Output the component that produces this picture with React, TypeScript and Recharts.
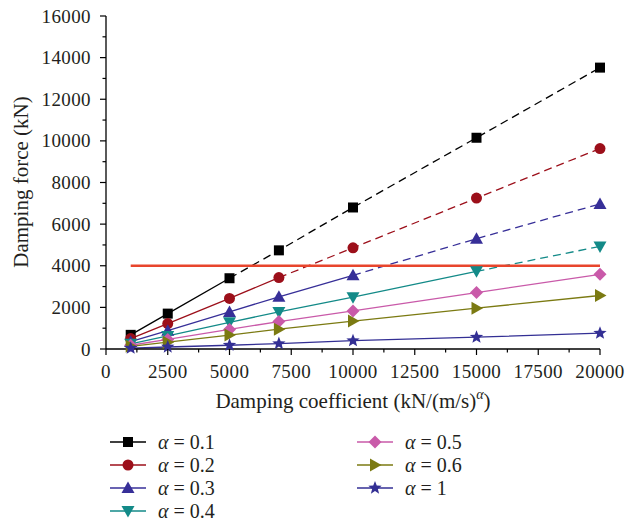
import React from "react";
import { LineChart, Line, XAxis, YAxis, Label } from "recharts";

const coefficients = [1000, 2500, 5000, 7000, 10000, 15000, 20000];

const force01 = [680, 1700, 3400, 4740, 6800, 10150, 13520];
const force02 = [500, 1220, 2430, 3430, 4860, 7250, 9630];
const force03 = [350, 880, 1780, 2510, 3540, 5300, 6970];
const force04 = [250, 630, 1280, 1780, 2490, 3730, 4930];
const force05 = [180, 460, 940, 1320, 1830, 2710, 3590];
const force06 = [130, 330, 670, 950, 1340, 1960, 2570];
const force1 = [40, 95, 180, 260, 400, 570, 760];

const limitForce = 4000;

const xTicks = [0, 1250, 2500, 3750, 5000, 6250, 7500, 8750, 10000, 11250, 12500, 13750, 15000, 16250, 17500, 18750, 20000];
const yTicks = [0, 1000, 2000, 3000, 4000, 5000, 6000, 7000, 8000, 9000, 10000, 11000, 12000, 13000, 14000, 15000, 16000];

const FONT = "'Liberation Serif', 'Times New Roman', serif";
const INK = "#231f20";

type Shape = "square" | "circle" | "up" | "down" | "diamond" | "right" | "star";

// solidUntil: last index drawn with a solid line, the rest is dashed
const series: { alpha: string; values: number[]; color: string; shape: Shape; solidUntil: number }[] = [
  { alpha: "0.1", values: force01, color: "#000000", shape: "square", solidUntil: 2 },
  { alpha: "0.2", values: force02, color: "#9c0f1a", shape: "circle", solidUntil: 3 },
  { alpha: "0.3", values: force03, color: "#372f98", shape: "up", solidUntil: 4 },
  { alpha: "0.4", values: force04, color: "#138a88", shape: "down", solidUntil: 5 },
  { alpha: "0.5", values: force05, color: "#c95aa9", shape: "diamond", solidUntil: 6 },
  { alpha: "0.6", values: force06, color: "#7b7a12", shape: "right", solidUntil: 6 },
  { alpha: "1", values: force1, color: "#332f94", shape: "star", solidUntil: 6 },
];

const last = coefficients.length - 1;

const rows = coefficients.map((c, i) => {
  const row: Record<string, number | null> = { c, limit: limitForce };
  series.forEach((s, k) => {
    row[`s${k}`] = i <= s.solidUntil ? s.values[i] : null;
    row[`d${k}`] = i >= s.solidUntil ? s.values[i] : null;
  });
  return row;
});

function Marker({ shape, cx, cy, color }: { shape: Shape; cx: number; cy: number; color: string }) {
  switch (shape) {
    case "square":
      return <rect x={cx - 5} y={cy - 5} width={10} height={10} fill={color} />;
    case "circle":
      return <circle cx={cx} cy={cy} r={5.5} fill={color} />;
    case "up":
      return <polygon points={`${cx},${cy - 6.5} ${cx - 6.5},${cy + 5} ${cx + 6.5},${cy + 5}`} fill={color} />;
    case "down":
      return <polygon points={`${cx},${cy + 6.5} ${cx - 6.5},${cy - 5} ${cx + 6.5},${cy - 5}`} fill={color} />;
    case "diamond":
      return <polygon points={`${cx},${cy - 6.5} ${cx + 6.5},${cy} ${cx},${cy + 6.5} ${cx - 6.5},${cy}`} fill={color} />;
    case "right":
      return <polygon points={`${cx + 6.5},${cy} ${cx - 5},${cy - 6.5} ${cx - 5},${cy + 6.5}`} fill={color} />;
    case "star": {
      const pts: string[] = [];
      for (let j = 0; j < 10; j++) {
        const r = j % 2 === 0 ? 7 : 3;
        const a = -Math.PI / 2 + (j * Math.PI) / 5;
        pts.push(`${cx + r * Math.cos(a)},${cy + r * Math.sin(a)}`);
      }
      return <polygon points={pts.join(" ")} fill={color} />;
    }
  }
  return null;
}

const makeDot = (shape: Shape, color: string, from: number) => (props: any) => {
  const { cx, cy, index } = props;
  if (cx == null || cy == null || index < from) return <g key={`e-${index}`} />;
  return (
    <g key={`m-${index}`}>
      <Marker shape={shape} cx={cx} cy={cy} color={color} />
    </g>
  );
};

const XTick = (props: any) => {
  const { x, y, payload } = props;
  const major = payload.value % 2500 === 0;
  return (
    <g>
      <line x1={x} y1={y} x2={x} y2={y + (major ? 6 : 3.5)} stroke="#000" strokeWidth={1.2} />
      {major && (
        <text x={x} y={y + 29} textAnchor="middle" fontFamily={FONT} fontSize={19} letterSpacing={0.4} fill={INK}>
          {payload.value}
        </text>
      )}
    </g>
  );
};

const YTick = (props: any) => {
  const { x, y, payload } = props;
  const major = payload.value % 2000 === 0;
  return (
    <g>
      <line x1={x} y1={y} x2={x - (major ? 6 : 3.5)} y2={y} stroke="#000" strokeWidth={1.2} />
      {major && (
        <text x={x - 15} y={y + 6.5} textAnchor="end" fontFamily={FONT} fontSize={19} letterSpacing={0.4} fill={INK}>
          {payload.value}
        </text>
      )}
    </g>
  );
};

const XTitle = (props: any) => {
  const { viewBox } = props;
  return (
    <text x={viewBox.x + viewBox.width / 2} y={viewBox.y + 59} textAnchor="middle" fontFamily={FONT} fontSize={21} fill={INK}>
      <tspan>Damping coefficient (kN/(m/s)</tspan>
      <tspan dy={-9} fontSize={14} fontStyle="italic">α</tspan>
      <tspan dy={9}>)</tspan>
    </text>
  );
};

const YTitle = () => {
  const x = 21;
  const y = 182;
  return (
    <text x={x} y={y} transform={`rotate(-90 ${x} ${y})`} dy={7} textAnchor="middle" fontFamily={FONT} fontSize={21} fill={INK}>
      Damping force (kN)
    </text>
  );
};

function LegendBlock() {
  return (
    <svg width={629} height={105} style={{ position: "absolute", left: 0, top: 420 }}>
      {series.map((s, i) => {
        const col = i < 4 ? 0 : 1;
        const row = i < 4 ? i : i - 4;
        const x0 = col === 0 ? 110 : 357;
        const cy = 22 + row * 23;
        return (
          <g key={s.alpha}>
            <line x1={x0} y1={cy} x2={x0 + 36} y2={cy} stroke={s.color} strokeWidth={1.4} />
            <Marker shape={s.shape} cx={x0 + 18} cy={cy} color={s.color} />
            <text x={x0 + 48} y={cy + 6.5} fontFamily={FONT} fontSize={20} fill={INK}>
              <tspan fontStyle="italic">α</tspan>
              <tspan> = {s.alpha}</tspan>
            </text>
          </g>
        );
      })}
    </svg>
  );
}

export default function App() {
  return (
    <div style={{ position: "absolute", left: 0, top: 0, width: 629, height: 525, background: "#fff" }}>
      <LineChart width={629} height={420} data={rows} margin={{ top: 16, right: 29, left: 46, bottom: 11 }}>
        <XAxis
          dataKey="c"
          type="number"
          domain={[0, 20000]}
          ticks={xTicks}
          interval={0}
          tickSize={0}
          tickMargin={0}
          tickLine={false}
          tick={<XTick />}
          axisLine={{ stroke: "#000", strokeWidth: 1.3 }}
          height={60}
        >
          <Label content={<XTitle />} />
        </XAxis>
        <YAxis
          type="number"
          domain={[0, 16000]}
          ticks={yTicks}
          interval={0}
          tickSize={0}
          tickMargin={0}
          tickLine={false}
          tick={<YTick />}
          axisLine={{ stroke: "#000", strokeWidth: 1.3 }}
          width={60}
        >
          <Label content={<YTitle />} />
        </YAxis>
        {series.map((s, k) => (
          <Line
            key={`s${k}`}
            dataKey={`s${k}`}
            stroke={s.color}
            strokeWidth={1.3}
            type="linear"
            connectNulls={false}
            dot={makeDot(s.shape, s.color, 0)}
            activeDot={false}
            isAnimationActive={false}
          />
        ))}
        {series
          .map((s, k) => ({ s, k }))
          .filter(({ s }) => s.solidUntil < last)
          .map(({ s, k }) => (
            <Line
              key={`d${k}`}
              dataKey={`d${k}`}
              stroke={s.color}
              strokeWidth={1.3}
              strokeDasharray="8 5"
              type="linear"
              connectNulls={false}
              dot={makeDot(s.shape, s.color, s.solidUntil + 1)}
              activeDot={false}
              isAnimationActive={false}
            />
          ))}
        <Line dataKey="limit" stroke="#e8452c" strokeWidth={2.6} type="linear" dot={false} activeDot={false} isAnimationActive={false} />
      </LineChart>
      <LegendBlock />
    </div>
  );
}
